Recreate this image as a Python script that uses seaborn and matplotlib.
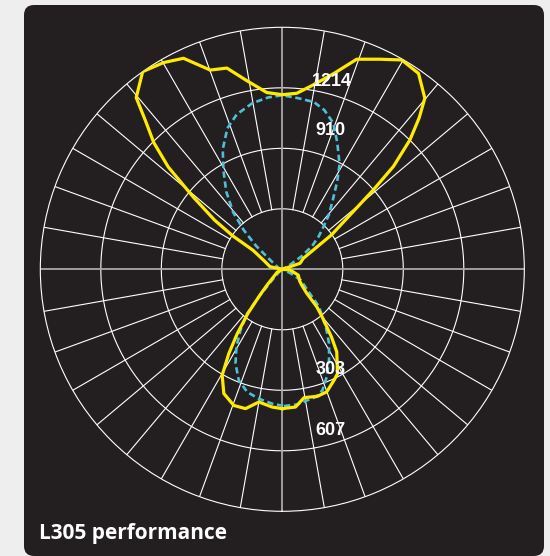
#导包
import numpy as np
import pandas as pd
import matplotlib
matplotlib.use("Agg")
import matplotlib.pyplot as plt
from matplotlib.patches import FancyBboxPatch
import seaborn as sn

#配光数据: 角度从正下方(0°)起算, 逆时针; 单位 cd
yellow_deg = [0, 5.5, 9.6, 15.4, 19.9, 25, 27.9, 33.4, 36, 37.7, 40, 42.6, 45.5, 51, 56, 70, 85,
              90, 108.7, 117.6, 125, 129, 131.1, 132.8, 135.4, 137.9, 140.2, 145.2, 150.3, 155.2,
              160.5, 165.4, 170.8, 175.3, 180, 185, 190.6, 195.4, 199.9, 205.1, 209.9, 215.25,
              220.4, 222.7, 225.4, 228.1, 231, 234, 236, 237, 245, 258, 270, 300, 316, 319, 322,
              325, 327.6, 330.4, 334.8, 340.4, 345.2, 350, 355.8]
yellow_cd = [699, 694, 653, 661, 654, 614, 592, 496, 420, 364, 310, 255, 172, 125, 105, 85, 39,
             0, 94, 119, 302, 450, 606, 760, 912, 1024, 1117, 1197, 1209, 1161,
             1118, 1013, 934, 886, 876, 890, 962, 1047, 1063, 1169, 1196, 1214,
             1131, 1011, 906, 769, 572, 420, 300, 175, 100, 63, 0, 30, 110, 170, 280,
             394, 501, 611, 689, 725, 723, 676, 693]

cyan_deg = [0.7, 6.4, 10.8, 14.7, 18.3, 22.4, 27.2, 32.2, 37.1, 44.5, 50.4, 59.8, 64.4, 90,
            121, 124, 128, 132, 135.5, 139.5, 144.3, 148.1, 151.4, 156.6, 160.8, 165.2, 169.3,
            174.7, 180, 184.7, 190.2, 196.4, 201.3, 206.4, 210.8, 215.8, 220.8, 224.5, 228.2,
            232.4, 250, 270, 300, 316.8, 319.5, 321.5, 325.5, 329.4, 333.6, 338.6, 344, 349.7,
            355.7]
cyan_cd = [686, 682, 669, 662, 640, 584, 513, 440, 362, 263, 163, 107, 46, 0,
           50, 116, 190, 245, 290, 360, 437, 522, 600, 694, 777, 826, 854,
           862, 873, 865, 847, 810, 759, 672, 577, 481, 377, 276, 177,
           78, 20, 0, 10, 74, 181, 283, 370, 452, 528, 598, 640, 660,
           676]

ring_values = [303.5, 607, 910.5, 1214]
ring_labels = ["303", "607", "910", "1214"]
label_pos = [(25.8, 557), (16.7, 845), (161.1, 738), (165.25, 973)]

DARK = '#231f20'


def closed_frame(deg, cd):
    #闭合曲线
    return pd.DataFrame({'theta': np.radians(list(deg) + [deg[0] + 360]),
                         'cd': list(cd) + [cd[0]]})


fig = plt.figure(figsize=(5.5, 5.56), dpi=100)
fig.patch.set_facecolor('#eeeeee')
bg = FancyBboxPatch((0.24, 0.0), 5.20, 5.51, boxstyle="round,pad=0,rounding_size=0.10",
                    transform=fig.dpi_scale_trans, facecolor=DARK, edgecolor='none', zorder=0)
fig.add_artist(bg)

ax = fig.add_axes([0.0733, 0.0804, 0.88, 0.8705], projection='polar')
ax.set_facecolor(DARK)
ax.set_theta_zero_location('S')
ax.set_theta_direction(1)
ax.set_ylim(0, ring_values[-1])
ax.grid(False)
ax.set_xticks([])
ax.set_yticks([])
ax.spines['polar'].set_color('white')
ax.spines['polar'].set_linewidth(0.8)

#网格
t = np.linspace(0, 2 * np.pi, 361)
for v in ring_values[:-1]:
    ax.plot(t, np.full_like(t, v), color='white', lw=0.8, zorder=1)
for a in range(0, 360, 10):
    r = np.radians(a)
    if a % 90 == 0:
        ax.plot([r, r], [0, ring_values[-1]], color='#a8a8a8', lw=1.3, zorder=1)
    else:
        ax.plot([r, r], [ring_values[0], ring_values[-1]], color='white', lw=0.8, zorder=1)

#配光曲线
sn.lineplot(data=closed_frame(cyan_deg, cyan_cd), x='theta', y='cd', sort=False, estimator=None,
            color='#4dbfd9', lw=1.9, linestyle=(0, (2.4, 1.4)), ax=ax, zorder=3)
sn.lineplot(data=closed_frame(yellow_deg, yellow_cd), x='theta', y='cd', sort=False, estimator=None,
            color='#ffeb00', lw=2.3, ax=ax, zorder=4)
ax.set_xlabel('')
ax.set_ylabel('')

for lab, (d, r) in zip(ring_labels, label_pos):
    ax.text(np.radians(d), r, lab, color='white', fontsize=13, fontweight='bold',
            family=['Liberation Sans', 'DejaVu Sans'], ha='center', va='center', zorder=5)

fig.text(39.3 / 550, 0.031, "L305 performance", color='white', fontsize=15,
         family=['Open Sans', 'DejaVu Sans'], fontweight='bold', ha='left', va='baseline')

plt.savefig('out.png', dpi=100, facecolor=fig.get_facecolor())
